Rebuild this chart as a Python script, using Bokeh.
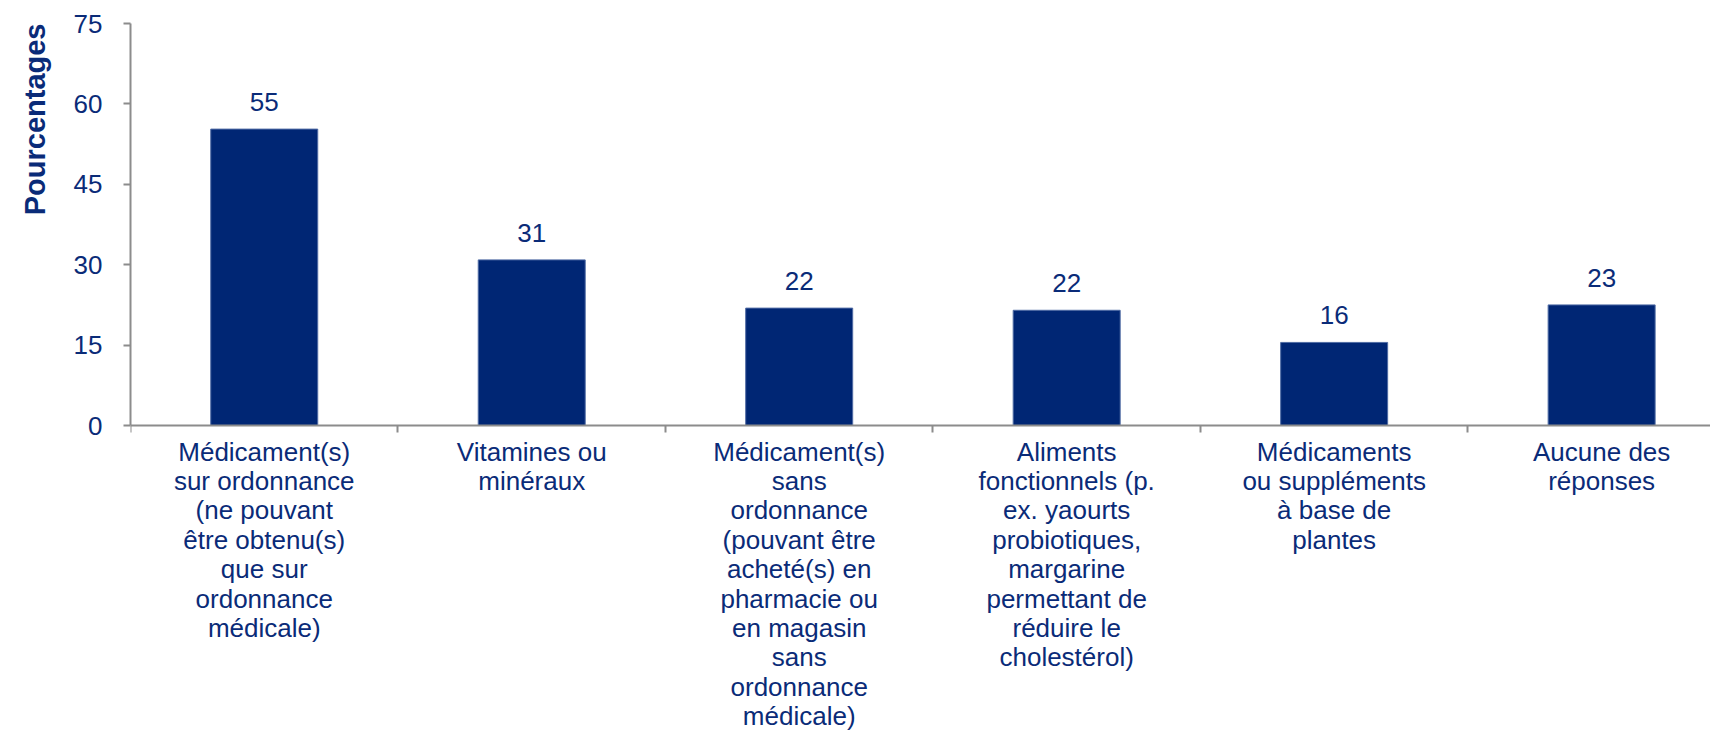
from bokeh.plotting import figure
from bokeh.models import Range1d, FixedTicker, ColumnDataSource
from bokeh.core.properties import value
from bokeh.embed import file_html
from bokeh.resources import INLINE

# ---- data ----
categories = [
    "Médicament(s)\nsur ordonnance\n(ne pouvant\nêtre obtenu(s)\nque sur\nordonnance\nmédicale)",
    "Vitamines ou\nminéraux",
    "Médicament(s)\nsans\nordonnance\n(pouvant être\nacheté(s) en\npharmacie ou\nen magasin\nsans\nordonnance\nmédicale)",
    "Aliments\nfonctionnels (p.\nex. yaourts\nprobiotiques,\nmargarine\npermettant de\nréduire le\ncholestérol)",
    "Médicaments\nou suppléments\nà base de\nplantes",
    "Aucune des\nréponses",
]
values = [55.3, 30.9, 21.9, 21.5, 15.5, 22.5]
value_labels = ["55", "31", "22", "22", "16", "23"]
y_ticks = [0, 15, 30, 45, 60, 75]
y_title = "Pourcentages"

NAVY = "#002674"
TEXT = "#0a2b78"
GREY = "#8c8c8c"
FONT = "Liberation Sans"

n = len(categories)
xs = [i + 0.5 for i in range(n)]
src = ColumnDataSource(dict(x=xs, top=values, lab=value_labels,
                            base=[0] * n, cat=categories))

p = figure(
    width=1710, height=730,
    output_backend="svg", toolbar_location=None,
    x_range=Range1d(0, 5.907), y_range=Range1d(-56.9, 75),
    min_border_left=130, min_border_top=23, min_border_bottom=0, min_border_right=0,
    title=y_title, title_location="left",
)
p.outline_line_color = None
p.xgrid.grid_line_color = None
p.ygrid.grid_line_color = None
p.background_fill_color = "white"
p.border_fill_color = "white"

# title used as the vertical axis caption, top-aligned
p.title.align = "right"
p.title.vertical_align = "top"
p.title.text_font = FONT
p.title.text_font_size = "29px"
p.title.text_font_style = "bold"
p.title.text_color = TEXT
p.title.offset = 0
p.title.standoff = 35

p.vbar(x="x", top="top", width=0.4, bottom=0, source=src,
       fill_color=NAVY, line_color="#4f6ba4", line_width=1)

# value labels above bars
p.text(x="x", y="top", text="lab", source=src,
       text_align="center", text_baseline="bottom", y_offset=-18,
       text_font=value(FONT), text_font_size="26px", text_color=TEXT)

# category labels under the axis
p.text(x="x", y="base", text="cat", source=src,
       text_align="center", text_baseline="top", y_offset=11,
       text_font=value(FONT), text_font_size="26px", text_color=TEXT,
       text_line_height=0.98)

# y axis
ya = p.yaxis[0]
ya.ticker = FixedTicker(ticks=y_ticks, minor_ticks=[])
ya.bounds = (0, 75)
ya.axis_line_color = GREY
ya.axis_line_width = 2
ya.major_tick_line_color = GREY
ya.major_tick_line_width = 2
ya.major_tick_out = 7
ya.major_tick_in = 0
ya.minor_tick_line_color = None
ya.major_label_text_font = FONT
ya.major_label_text_font_size = "26px"
ya.major_label_text_color = TEXT
ya.major_label_standoff = 21

# x axis at y=0, tick marks at category boundaries
xa = p.xaxis[0]
bounds = list(range(n))
xa.fixed_location = 0
xa.ticker = FixedTicker(ticks=bounds, minor_ticks=[])
xa.major_label_overrides = {b: "" for b in bounds}
xa.axis_line_color = GREY
xa.axis_line_width = 2
xa.major_tick_line_color = GREY
xa.major_tick_line_width = 2
xa.major_tick_out = 7
xa.major_tick_in = 0
xa.minor_tick_line_color = None

open("out.html", "w").write(file_html(p, INLINE))
